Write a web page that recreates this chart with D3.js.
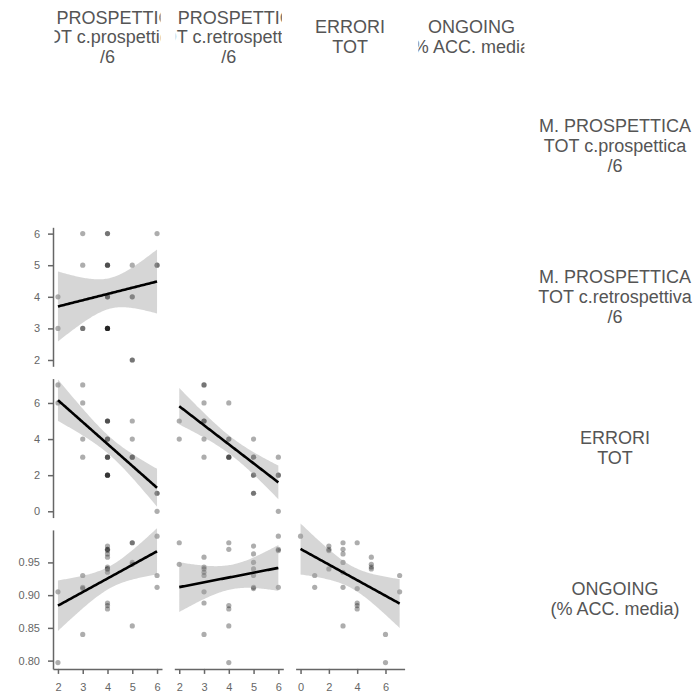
<!DOCTYPE html>
<html><head><meta charset="utf-8">
<script src="https://cdn.jsdelivr.net/npm/d3@7"></script>
<style>body{margin:0;background:#fff}</style>
</head><body><svg id="c" width="698" height="696"></svg>
<script>
// ---- data (one entry per subject) ----
const prospettica   = [2,2,3,3,3,3,5,5,6,4,4,6,6,4,4,4,5,5,4,4,4,4,4,4,4,5,4];
const retrospettiva = [4,3,3,3,6,5,2,2,6,6,6,5,5,5,5,5,5,4,4,4,3,3,3,3,3,4,4];
const errori        = [6,7,6,7,3,4,5,4,0,2,2,1,1,2,3,2,3,3,4,3,4,5,5,5,3,3,4];
const ongoing       = [0.797,0.905,0.84,0.93,0.912,0.91,0.947,0.98,0.99,0.97,0.968,0.93,0.912,0.975,0.963,0.94,0.95,0.853,0.879,0.97,0.888,0.958,0.943,0.94,0.935,0.98,0.884];

const varLabels = [
  ["M. PROSPETTICA","TOT c.prospettica","/6"],
  ["M. PROSPETTICA","TOT c.retrospettiva","/6"],
  ["ERRORI","TOT"],
  ["ONGOING","(% ACC. media)"]
];
const tickSets = [[2,3,4,5,6],[2,3,4,5,6],[0,2,4,6],[0.80,0.85,0.90,0.95]];
const tickFormats = [d3.format("d"),d3.format("d"),d3.format("d"),d3.format(".2f")];

const vars = [prospettica, retrospettiva, errori, ongoing];

// ---- layout ----
const left0=53, top0=76, colStep=121.3, rowStep=151.3, pw=109, ph=139;
const textCol="#555555", tickCol="#666666", axisCol="#666666";
const font="'Liberation Sans', Arial, sans-serif";

const svg=d3.select("#c");

function padDomain(v){const [a,b]=d3.extent(v);const p=(b-a)*0.05;return [a-p,b+p];}
const sx = vars.map((v,i)=>d3.scaleLinear().domain(padDomain(v)).range([left0+i*colStep,left0+i*colStep+pw]));
const sy = vars.map((v,i)=>d3.scaleLinear().domain(padDomain(v)).range([top0+i*rowStep+ph,top0+i*rowStep]));

// t quantile approx (0.975)
function tq(df){const z=1.959964;return z+(z**3+z)/(4*df)+(5*z**5+16*z**3+3*z)/(96*df*df)+(3*z**7+19*z**5+17*z**3-15*z)/(384*df**3);}

function fit(xs,ys){
  const n=xs.length,mx=d3.mean(xs),my=d3.mean(ys);
  let sxx=0,sxy=0;for(let i=0;i<n;i++){sxx+=(xs[i]-mx)**2;sxy+=(xs[i]-mx)*(ys[i]-my);}
  const b=sxy/sxx,a=my-b*mx;
  let rss=0;for(let i=0;i<n;i++){rss+=(ys[i]-a-b*xs[i])**2;}
  const s=Math.sqrt(rss/(n-2)),t=tq(n-2);
  const [x0,x1]=d3.extent(xs);
  return d3.range(80).map(k=>{const x=x0+(x1-x0)*k/79;const y=a+b*x;const se=s*Math.sqrt(1/n+(x-mx)**2/sxx);return {x,y,lo:y-t*se,hi:y+t*se};});
}

// ---- panels (lower triangle) ----
for(let r=1;r<4;r++){
  for(let c=0;c<r;c++){
    const X=sx[c],Y=sy[r];
    const xs=vars[c],ys=vars[r];
    const g=svg.append("g");
    g.selectAll("circle").data(xs.map((x,i)=>[x,ys[i]])).join("circle")
      .attr("cx",d=>X(d[0])).attr("cy",d=>Y(d[1])).attr("r",2.6)
      .attr("fill","#000").attr("fill-opacity",0.32);
    const f=fit(xs,ys);
    g.append("path").datum(f)
      .attr("d",d3.area().x(d=>X(d.x)).y0(d=>Y(d.lo)).y1(d=>Y(d.hi)))
      .attr("fill","#999").attr("fill-opacity",0.4);
    g.append("path").datum(f)
      .attr("d",d3.line().x(d=>X(d.x)).y(d=>Y(d.y)))
      .attr("fill","none").attr("stroke","#000").attr("stroke-width",2.6);
  }
}

function styleAxis(g){
  g.selectAll(".domain").attr("stroke",axisCol).attr("stroke-width",1.5);
  g.selectAll(".tick line").attr("stroke",axisCol).attr("stroke-width",1.5);
  g.selectAll(".tick text").attr("fill",tickCol).attr("font-size",11).attr("font-family",font);
}
// y axes on first column
for(let r=1;r<4;r++){
  const g=svg.append("g").attr("transform",`translate(${left0},0)`)
    .call(d3.axisLeft(sy[r]).tickValues(tickSets[r]).tickFormat(tickFormats[r]).tickSize(5).tickSizeOuter(0).tickPadding(8));
  styleAxis(g);
}
// x axes on bottom row
for(let c=0;c<3;c++){
  const g=svg.append("g").attr("transform",`translate(0,${top0+3*rowStep+ph})`)
    .call(d3.axisBottom(sx[c]).tickValues(tickSets[c]).tickFormat(tickFormats[c]).tickSize(5).tickSizeOuter(0).tickPadding(9));
  styleAxis(g);
}

// ---- column header strips (clipped to panel width) ----
const defs=svg.append("defs");
varLabels.forEach((lines,i)=>{
  const x0=left0+i*colStep;
  defs.append("clipPath").attr("id","clip"+i).append("rect").attr("x",x0+1.5).attr("y",0).attr("width",pw-3).attr("height",top0);
  const g=svg.append("g").attr("clip-path",`url(#clip${i})`);
  const cy=37, lh=19.5;
  lines.forEach((t,k)=>{
    g.append("text").attr("x",x0+pw/2).attr("y",cy+(k-(lines.length-1)/2)*lh+6)
      .attr("text-anchor","middle").attr("font-size",18).attr("font-family",font).attr("fill",textCol).text(t);
  });
});
// ---- row labels on right ----
varLabels.forEach((lines,i)=>{
  const cy=top0+i*rowStep+ph/2, lh=20;
  lines.forEach((t,k)=>{
    svg.append("text").attr("x",615).attr("y",cy+(k-(lines.length-1)/2)*lh+6)
      .attr("text-anchor","middle").attr("font-size",18).attr("font-family",font).attr("fill",textCol).text(t);
  });
});
</script>
</body></html>
